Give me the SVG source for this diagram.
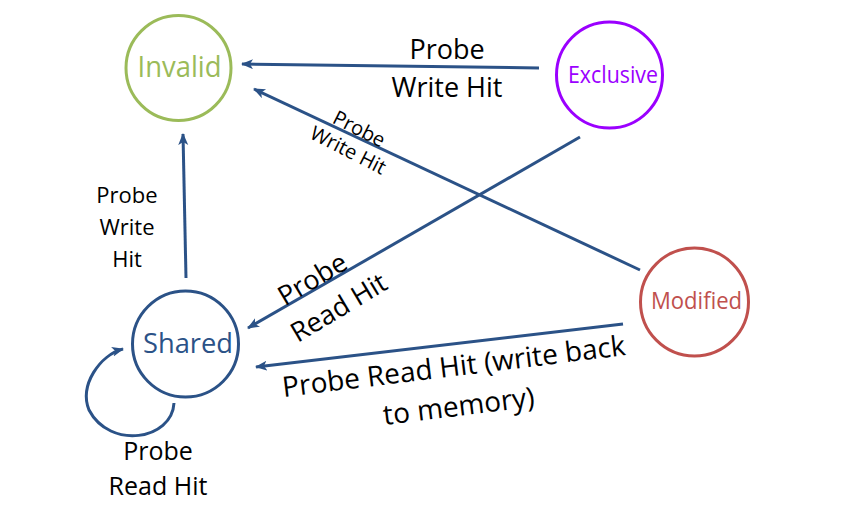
<svg xmlns="http://www.w3.org/2000/svg" width="852" height="521" viewBox="0 0 852 521">
<defs>
<marker id="ah" markerUnits="userSpaceOnUse" markerWidth="14" markerHeight="12" refX="11" refY="5" orient="auto">
<path d="M0,0 L12,5 L0,10 L3,5 Z" fill="#2b5287"/>
</marker>
<style>
.node{fill:#fff;stroke-width:3}
.nt{font-family:"Open Sans","Noto Sans",sans-serif;text-anchor:middle}
.lb{font-family:"Open Sans","Noto Sans",sans-serif;text-anchor:middle;fill:#000}
.edge{fill:none;stroke:#2b5287;stroke-width:3;marker-end:url(#ah)}
</style>
</defs>
<rect width="852" height="521" fill="#fff"/>
<g id="connectors">
<line class="edge" x1="539" y1="68" x2="242" y2="64"/>
<line class="edge" x1="640" y1="270" x2="254" y2="89"/>
<line class="edge" x1="580" y1="137" x2="248" y2="328"/>
<line class="edge" x1="186" y1="278" x2="183" y2="134"/>
<line class="edge" x1="623" y1="324" x2="256" y2="367"/>
<path class="edge" d="M174,403 C172,440 110,450 89,410 C79,385 100,355 123,349"/>
</g>
<g id="labels">
<text class="lb" font-size="27"><tspan x="447" y="59">Probe</tspan><tspan x="447" y="97">Write Hit</tspan></text>
<g transform="translate(356,135) rotate(27)"><text class="lb" font-size="20"><tspan x="0" y="0">Probe</tspan><tspan x="0" y="24">Write Hit</tspan></text></g>
<text class="lb" font-size="22"><tspan x="127" y="203">Probe</tspan><tspan x="127" y="235">Write</tspan><tspan x="127" y="267">Hit</tspan></text>
<g transform="translate(324,283) rotate(-31)"><text class="lb" font-size="27"><tspan x="-8" y="0">Probe</tspan><tspan x="0" y="38">Read Hit</tspan></text></g>
<g transform="translate(455,376) rotate(-7)"><text class="lb" font-size="28"><tspan x="0" y="0">Probe Read Hit (write back</tspan><tspan x="0" y="40">to memory)</tspan></text></g>
<text class="lb" font-size="25"><tspan x="158" y="460">Probe</tspan><tspan x="158" y="495">Read Hit</tspan></text>
</g>
<g id="invalid">
<circle class="node" cx="178.5" cy="68" r="52.5" stroke="#9bbb59"/>
<text class="nt" x="179.5" y="77" font-size="30" textLength="84" lengthAdjust="spacingAndGlyphs" fill="#9bbb59">Invalid</text>
</g>
<g id="exclusive">
<circle class="node" cx="609.5" cy="75" r="53" stroke="#9b00ff"/>
<text class="nt" x="613" y="83" font-size="23" textLength="90" lengthAdjust="spacingAndGlyphs" fill="#9b00ff">Exclusive</text>
</g>
<g id="shared">
<circle class="node" cx="185.5" cy="344" r="53" stroke="#2b5287"/>
<text class="nt" x="188" y="353" font-size="28" textLength="90" lengthAdjust="spacingAndGlyphs" fill="#2b5287">Shared</text>
</g>
<g id="modified">
<circle class="node" cx="694.5" cy="302" r="54" stroke="#c0504d"/>
<text class="nt" x="696.5" y="309" font-size="23" textLength="91" lengthAdjust="spacingAndGlyphs" fill="#c0504d">Modified</text>
</g>
</svg>
